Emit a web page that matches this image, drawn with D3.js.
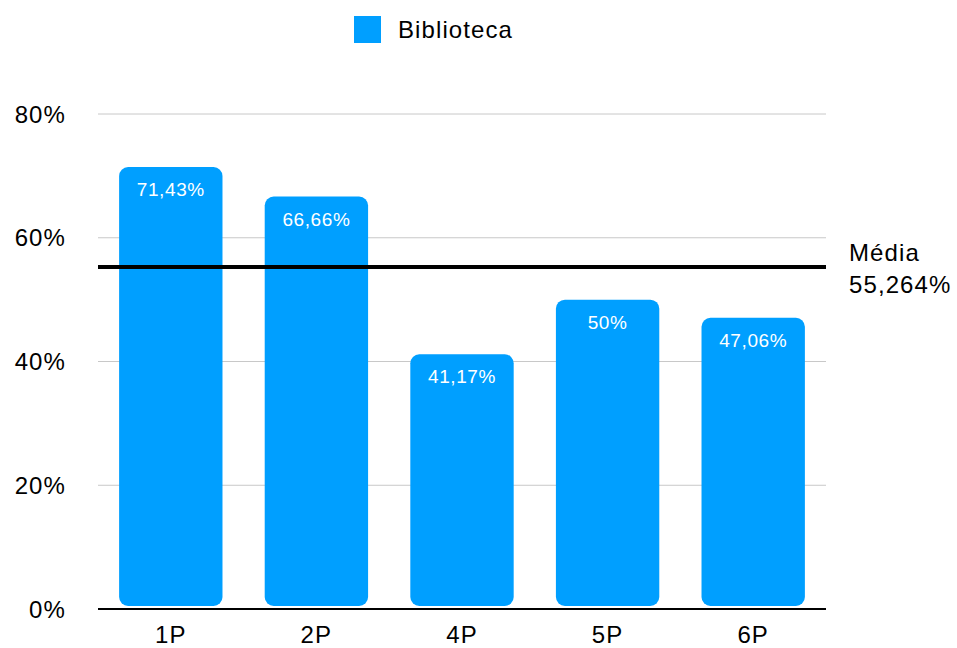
<!DOCTYPE html>
<html>
<head>
<meta charset="utf-8">
<script src="https://cdn.jsdelivr.net/npm/d3@7"></script>
<style>
  body { margin: 0; background: #fff; }
  text { font-family: "Liberation Sans", Arial, sans-serif; }
  .big { font-size: 24px; letter-spacing: 1.1px; }
  .val { font-size: 19px; letter-spacing: 0.6px; }
</style>
</head>
<body>
<div class="canvas"></div>
<script>
// chart data
const categories = ['1P', '2P', '4P', '5P', '6P'];
const values = [71.43, 66.66, 41.17, 50, 47.06];
const valueLabels = ['71,43%', '66,66%', '41,17%', '50%', '47,06%'];
const yTicks = [0, 20, 40, 60, 80];
const mean = 55.264;
const meanLabel = ['Média', '55,264%'];
const seriesName = 'Biblioteca';

const blue = '#009fff';

const svg = d3.select('.canvas')
    .append('svg')
    .attr('width', 957)
    .attr('height', 648);

// plot area
const plotLeft = 98, plotRight = 826, plotTop = 114, plotBottom = 609;

const x = d3.scaleBand()
    .domain(categories)
    .range([plotLeft, plotRight])
    .paddingInner(0.29)
    .paddingOuter(0.145);

const y = d3.scaleLinear()
    .domain([0, 80])
    .range([plotBottom, plotTop]);

// gridlines
svg.append('g')
    .selectAll('line')
    .data(yTicks.filter(d => d > 0))
    .enter()
    .append('line')
    .attr('x1', plotLeft)
    .attr('x2', plotRight)
    .attr('y1', d => y(d))
    .attr('y2', d => y(d))
    .attr('stroke', '#c8c8c8')
    .attr('stroke-width', 1);

// y tick labels
svg.append('g')
    .selectAll('text')
    .data(yTicks)
    .enter()
    .append('text')
    .attr('class', 'big')
    .attr('x', 66)
    .attr('y', d => y(d))
    .attr('dy', '0.36em')
    .attr('text-anchor', 'end')
    .attr('fill', '#000')
    .text(d => d + '%');

// bars
svg.append('g')
    .selectAll('rect')
    .data(values)
    .enter()
    .append('rect')
    .attr('x', (d, i) => x(categories[i]))
    .attr('width', x.bandwidth())
    .attr('y', d => y(d))
    .attr('height', d => y(0) - y(d) - 3)
    .attr('rx', 9)
    .attr('fill', blue);

// value labels
svg.append('g')
    .selectAll('text')
    .data(values)
    .enter()
    .append('text')
    .attr('class', 'val')
    .attr('x', (d, i) => x(categories[i]) + x.bandwidth() / 2)
    .attr('y', d => y(d) + 29)
    .attr('text-anchor', 'middle')
    .attr('fill', '#fff')
    .text((d, i) => valueLabels[i]);

// baseline
svg.append('line')
    .attr('x1', plotLeft)
    .attr('x2', plotRight)
    .attr('y1', y(0))
    .attr('y2', y(0))
    .attr('stroke', '#000')
    .attr('stroke-width', 2);

// x labels
svg.append('g')
    .selectAll('text')
    .data(categories)
    .enter()
    .append('text')
    .attr('class', 'big')
    .attr('x', d => x(d) + x.bandwidth() / 2)
    .attr('y', 643)
    .attr('text-anchor', 'middle')
    .text(d => d);

// mean line
svg.append('line')
    .attr('x1', plotLeft)
    .attr('x2', plotRight)
    .attr('y1', y(mean))
    .attr('y2', y(mean))
    .attr('stroke', '#000')
    .attr('stroke-width', 4);

svg.append('text')
    .attr('class', 'big')
    .attr('x', 849)
    .attr('y', 261)
    .selectAll('tspan')
    .data(meanLabel)
    .enter()
    .append('tspan')
    .attr('x', 849)
    .attr('dy', (d, i) => i === 0 ? 0 : 32)
    .text(d => d);

// legend
svg.append('rect')
    .attr('x', 354)
    .attr('y', 16)
    .attr('width', 27)
    .attr('height', 27)
    .attr('fill', blue);

svg.append('text')
    .attr('class', 'big')
    .attr('x', 398)
    .attr('y', 38)
    .text(seriesName);
</script>
</body>
</html>
